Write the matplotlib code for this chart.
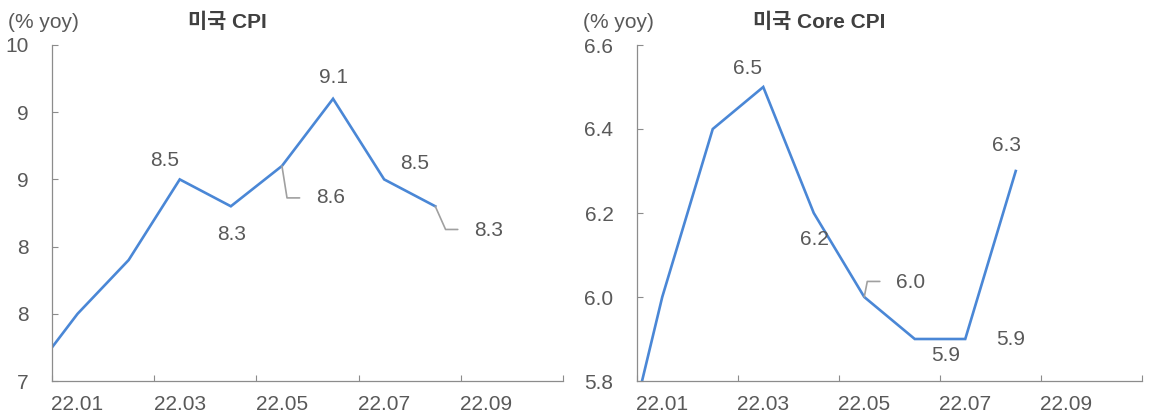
import matplotlib.pyplot as plt

plt.rcParams['font.family'] = ['Liberation Sans', 'Noto Sans CJK KR']

# month index: Dec-21 = -1, Jan-22 = 0 ... Aug-22 = 7
months = [-1, 0, 1, 2, 3, 4, 5, 6, 7]
cpi = [7.0, 7.5, 7.9, 8.5, 8.3, 8.6, 9.1, 8.5, 8.3]
core = [5.5, 6.0, 6.4, 6.5, 6.2, 6.0, 5.9, 5.9, 6.3]

xtick_labels = ['22.01', '22.03', '22.05', '22.07', '22.09']
cpi_yticks = [7.0, 7.5, 8.0, 8.5, 9.0, 9.5]
cpi_ylabels = ['7', '8', '8', '9', '9', '10']
core_yticks = [5.8, 6.0, 6.2, 6.4, 6.6]
core_ylabels = ['5.8', '6.0', '6.2', '6.4', '6.6']

# labelled points: (month index, text, offset in points, leader angle or None)
cpi_labels = [(2, '8.5', (-11.2, 13.3), None), (3, '8.3', (0.4, -20.2), None),
              (4, '8.6', (34.9, -23.0), -81), (5, '9.1', (0, 15.1), None),
              (6, '8.5', (21.6, 11.5), None), (7, '8.3', (38.5, -17.3), -66)]
core_labels = [(2, '6.5', (-11.5, 13.0), None), (3, '6.2', (0.4, -19.4), None),
               (4, '6.0', (33.1, 10.8), 79), (5, '5.9', (22.0, -12.2), None),
               (6, '5.9', (33.0, -0.7), None), (7, '6.3', (-6.8, 18.7), None)]

line_c = '#4a87d6'
axis_c = '#8c8c8c'
text_c = '#595959'
fs = 15

fig = plt.figure(figsize=(11.51, 4.19), dpi=100)
ax1 = fig.add_axes([52/1151, 1-381/419, (563-52)/1151, (381-45)/419])
ax2 = fig.add_axes([637/1151, 1-381/419, (1142-637)/1151, (381-45)/419])


def draw(ax, vals, ylim, yticks, ylabels, labels, lead_pts):
    ax.plot(months, vals, color=line_c, lw=1.9, solid_joinstyle='miter')
    ax.set_xlim(-0.5, 9.5)
    ax.set_ylim(*ylim)
    ax.set_yticks(yticks)
    ax.set_yticklabels(ylabels)
    ax.set_xticks([-0.5, 1.5, 3.5, 5.5, 7.5, 9.5])
    ax.set_xticklabels([])
    ax.set_xticks([0, 2, 4, 6, 8], minor=True)
    ax.set_xticklabels(xtick_labels, minor=True)
    ax.tick_params(axis='x', which='minor', length=0, pad=10, labelsize=fs, labelcolor=text_c)
    ax.tick_params(axis='x', which='major', direction='in', length=4, color=axis_c)
    ax.tick_params(axis='y', direction='in', length=4, color=axis_c, pad=17,
                   labelsize=fs, labelcolor=text_c)
    for s in ['top', 'right']:
        ax.spines[s].set_visible(False)
    for s in ['left', 'bottom']:
        ax.spines[s].set_color(axis_c)
        ax.spines[s].set_linewidth(0.9)
    for i, txt, off, ang in labels:
        y = vals[months.index(i)]
        ax.annotate(txt, (i, y), xytext=off, textcoords='offset points',
                    ha='center', va='center', fontsize=fs, color=text_c)
        if ang is not None:
            end = lead_pts[(i, txt)]
            ax.annotate('', (i, y), xytext=end, textcoords='offset points',
                        arrowprops=dict(arrowstyle='-', color='#a0a0a0', lw=1.2,
                                        shrinkA=0, shrinkB=0,
                                        connectionstyle='angle,angleA=0,angleB=%d,rad=0' % ang))


draw(ax1, cpi, (7.0, 9.5), cpi_yticks, cpi_ylabels, cpi_labels,
     {(4, '8.6'): (12.7, -23.0), (7, '8.3'): (16.2, -16.7)})
draw(ax2, core, (5.8, 6.6), core_yticks, core_ylabels, core_labels,
     {(4, '6.0'): (11.2, 11.2)})

fig.text(8/1151, 1-22/419, '(% yoy)', fontsize=fs, color=text_c, va='center')
fig.text(227/1151, 1-22/419, '미국 CPI', fontsize=fs, color='#404040',
         fontweight='bold', ha='center', va='center')
fig.text(583/1151, 1-22/419, '(% yoy)', fontsize=fs, color=text_c, va='center')
fig.text(819/1151, 1-22/419, '미국 Core CPI', fontsize=fs, color='#404040',
         fontweight='bold', ha='center', va='center')

fig.savefig('out.png', dpi=100)
